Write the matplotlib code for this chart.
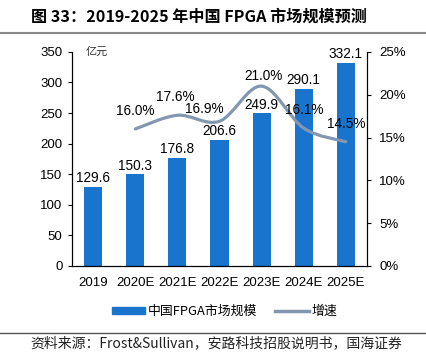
import matplotlib
matplotlib.use("Agg")
import matplotlib.pyplot as plt
import numpy as np
from matplotlib.path import Path
from matplotlib.patches import PathPatch, Patch
from matplotlib.lines import Line2D

plt.rcParams['font.family'] = ['Noto Sans CJK SC', 'DejaVu Sans']

years = ['2019', '2020E', '2021E', '2022E', '2023E', '2024E', '2025E']
market = [129.6, 150.3, 176.8, 206.6, 249.9, 290.1, 332.1]
growth_years = ['2020E', '2021E', '2022E', '2023E', '2024E', '2025E']
growth = [16.0, 17.6, 16.9, 21.0, 16.1, 14.5]
# label offsets (pixels) for the growth labels, as placed in the original
label_dx = [0, -2, -15, 2, 1, 1]
label_dy = [18, 18, 12, 10, 18, 18]

bar_color = '#1874CD'
line_color = '#8497B0'
num_font = 'Liberation Sans'

fig = plt.figure(figsize=(4.27, 3.53), dpi=100)
ax = fig.add_axes([0.169, 0.2465, 0.69, 0.6065])
ax2 = ax.twinx()

x = np.arange(len(years))
ax.bar(x, market, width=0.43, color=bar_color, zorder=2)
for xi, v in zip(x, market):
    ax.annotate(f'{v:.1f}', (xi, v), xytext=(0, 1), textcoords='offset points',
                ha='center', va='bottom', fontsize=9.8, family=num_font)

ax.set_ylim(0, 350)
ax.set_yticks(range(0, 351, 50))
ax.set_xlim(-0.5, len(years) - 0.5)
ax.set_xticks(x)
ax.set_xticklabels(years)
ax.tick_params(axis='x', length=0, pad=8)
ax.tick_params(axis='y', length=3, direction='out', pad=4)
for lab in ax.get_xticklabels() + ax.get_yticklabels():
    lab.set_fontsize(9.5)
    lab.set_family(num_font)
ax.spines['top'].set_visible(False)
ax.text(0.045, 350, '亿元', fontsize=8, va='center', ha='left', color='#333333',
        transform=ax.get_yaxis_transform())

# smooth growth line (Catmull-Rom through the data points)
gx = np.array([years.index(g) for g in growth_years], dtype=float)
gy = np.array(growth, dtype=float)
verts = [(gx[0], gy[0])]
codes = [Path.MOVETO]
n = len(gx)
for i in range(n - 1):
    p0 = np.array([gx[max(i - 1, 0)], gy[max(i - 1, 0)]])
    p1 = np.array([gx[i], gy[i]])
    p2 = np.array([gx[i + 1], gy[i + 1]])
    p3 = np.array([gx[min(i + 2, n - 1)], gy[min(i + 2, n - 1)]])
    c1 = p1 + (p2 - p0) / 6
    c2 = p2 - (p3 - p1) / 6
    verts += [tuple(c1), tuple(c2), tuple(p2)]
    codes += [Path.CURVE4] * 3
ax2.add_patch(PathPatch(Path(verts, codes), fill=False, edgecolor=line_color,
                        lw=2.3, capstyle='round', zorder=3))
for xi, v, dx, dy in zip(gx, gy, label_dx, label_dy):
    ax2.annotate(f'{v:.1f}%', (xi, v), xytext=(dx * 0.72, dy * 0.72),
                 textcoords='offset points', ha='center', va='center',
                 fontsize=9.8, family=num_font)

ax2.set_ylim(0, 25)
ax2.set_yticks(range(0, 26, 5))
ax2.set_yticklabels([f'{t}%' for t in range(0, 26, 5)])
ax2.tick_params(axis='y', length=3, direction='out', pad=6)
for lab in ax2.get_yticklabels():
    lab.set_fontsize(9.5)
    lab.set_family(num_font)
ax2.spines['top'].set_visible(False)

handles = [Patch(color=bar_color), Line2D([0], [0], color=line_color, lw=2.5)]
fig.legend(handles, ['中国FPGA市场规模', '增速'], loc='center', bbox_to_anchor=(0.526, 0.117),
           ncol=2, frameon=False, fontsize=9.3, handlelength=2.6, handleheight=0.45,
           columnspacing=1.4, handletextpad=0.2)

fig.text(0.073, 0.952, '图 33：2019-2025 年中国 FPGA 市场规模预测', fontsize=11.6,
         fontweight='bold', va='center', ha='left')
fig.add_artist(Line2D([0, 1], [0.907, 0.907], color='#888888', lw=1.5))
fig.add_artist(Line2D([0, 1], [0.057, 0.057], color='#555555', lw=1))
fig.text(0.07, 0.028, '资料来源：Frost&Sullivan，安路科技招股说明书，国海证券', fontsize=10,
         va='center', ha='left', color='#222222')

fig.savefig('out.png', dpi=100)
